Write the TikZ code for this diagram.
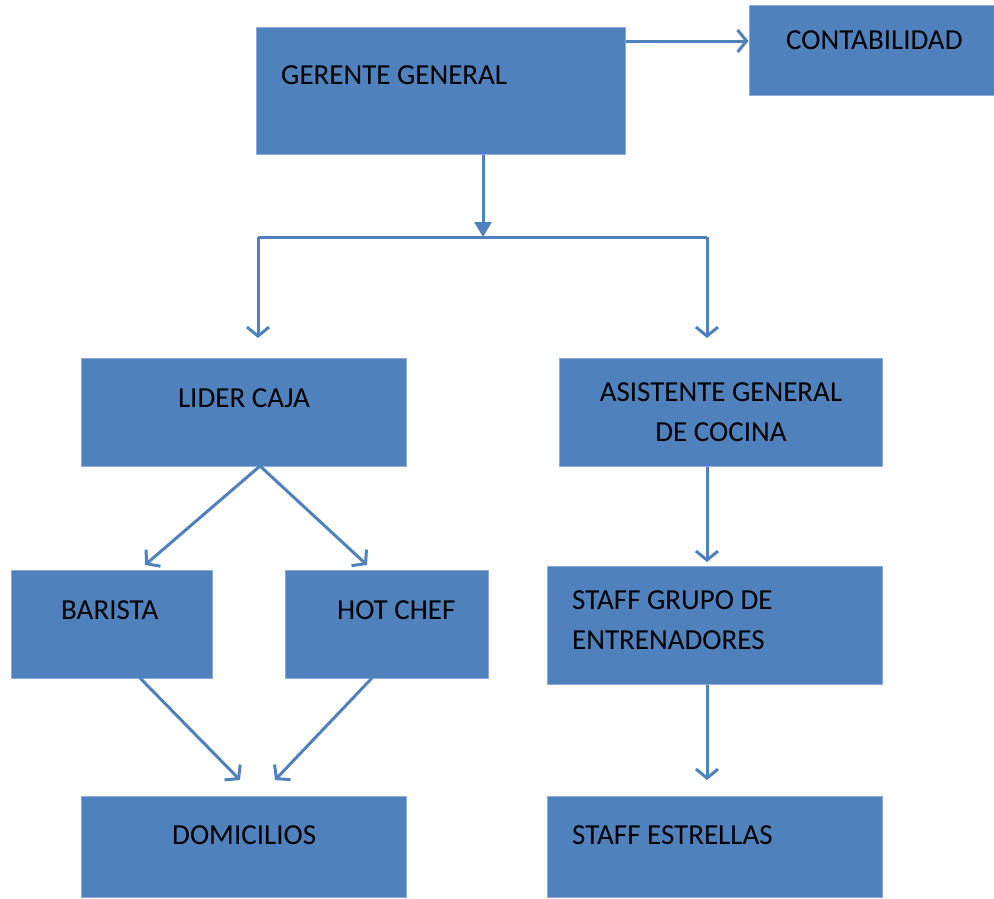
\documentclass[tikz,border=0pt]{standalone}
\usepackage{fontspec}
\setmainfont{Carlito}
\usetikzlibrary{arrows.meta}
\definecolor{boxblue}{HTML}{4F81BD}
\definecolor{boxedge}{HTML}{8EAADB}
\begin{document}
\begin{tikzpicture}[x=1pt,y=-1pt,
  box/.style={draw=boxedge,line width=1pt,fill=boxblue,inner sep=0pt},
  lbl/.style={font=\fontsize{29}{40}\selectfont,text=black,inner sep=0pt},
  conn/.style={draw=boxblue,line width=3pt},
  open/.style={-{Straight Barb[length=9pt,width=22pt,line width=3pt]}},
  fillt/.style={-{Triangle[length=15pt,width=17pt]}}]
\useasboundingbox (0,0) rectangle (994,898);
% boxes
\node[box,minimum width=369pt,minimum height=127pt] (gg) at (440.5,90.5) {};
\node[box,minimum width=246pt,minimum height=90pt] (cont) at (872,50) {};
\node[box,minimum width=325pt,minimum height=108pt] (lider) at (243.5,412) {};
\node[box,minimum width=323pt,minimum height=108pt] (asis) at (720.5,412) {};
\node[box,minimum width=201pt,minimum height=108pt] (bar) at (111.5,624) {};
\node[box,minimum width=203pt,minimum height=108pt] (hot) at (386.5,624) {};
\node[box,minimum width=335pt,minimum height=118pt] (staff) at (714.5,625) {};
\node[box,minimum width=325pt,minimum height=101pt] (dom) at (243.5,846.5) {};
\node[box,minimum width=335pt,minimum height=101pt] (est) at (714.5,846.5) {};
% texts
\node[lbl,anchor=west] (ggt) at (281,75) {GERENTE GENERAL};
\node[lbl,anchor=west] (contt) at (786,40) {CONTABILIDAD};
\node[lbl] (lidert) at (244,398) {LIDER CAJA};
\node[lbl,align=center] (asist) at (721,412) {ASISTENTE GENERAL\\DE COCINA};
\node[lbl,anchor=west] (bart) at (61,610) {BARISTA};
\node[lbl,anchor=west] (hott) at (337,610) {HOT CHEF};
\node[lbl,anchor=west,align=left] (stafft) at (572,620) {STAFF GRUPO DE\\ENTRENADORES};
\node[lbl,anchor=west] (domt) at (172,835) {DOMICILIOS};
\node[lbl,anchor=west] (estt) at (572,835) {STAFF ESTRELLAS};
% connectors
\coordinate (j) at (483,237);
\coordinate (jl) at (258,237);
\coordinate (jr) at (707,237);
\coordinate (al) at (258,338);
\coordinate (ar) at (707,338);
\draw[conn,open] (gg.east |- 0,41) -- (cont.west |- 0,41);
\draw[conn,fillt] (gg.south -| j) -- (j);
\draw[conn] (jl) -- (jr);
\draw[conn,open] (jl) -- (al);
\draw[conn,open] (jr) -- (ar);
\coordinate (ls) at (260,466);
\draw[conn,open] (ls) -- (145,565);
\draw[conn,open] (ls) -- (367,565);
\draw[conn,open] (140,678) -- (240,780);
\draw[conn,open] (372,678) -- (275,780);
\draw[conn,open] (asis.south -| 707,0) -- (707,562);
\draw[conn,open] (staff.south -| 707,0) -- (707,780);
\end{tikzpicture}
\end{document}
